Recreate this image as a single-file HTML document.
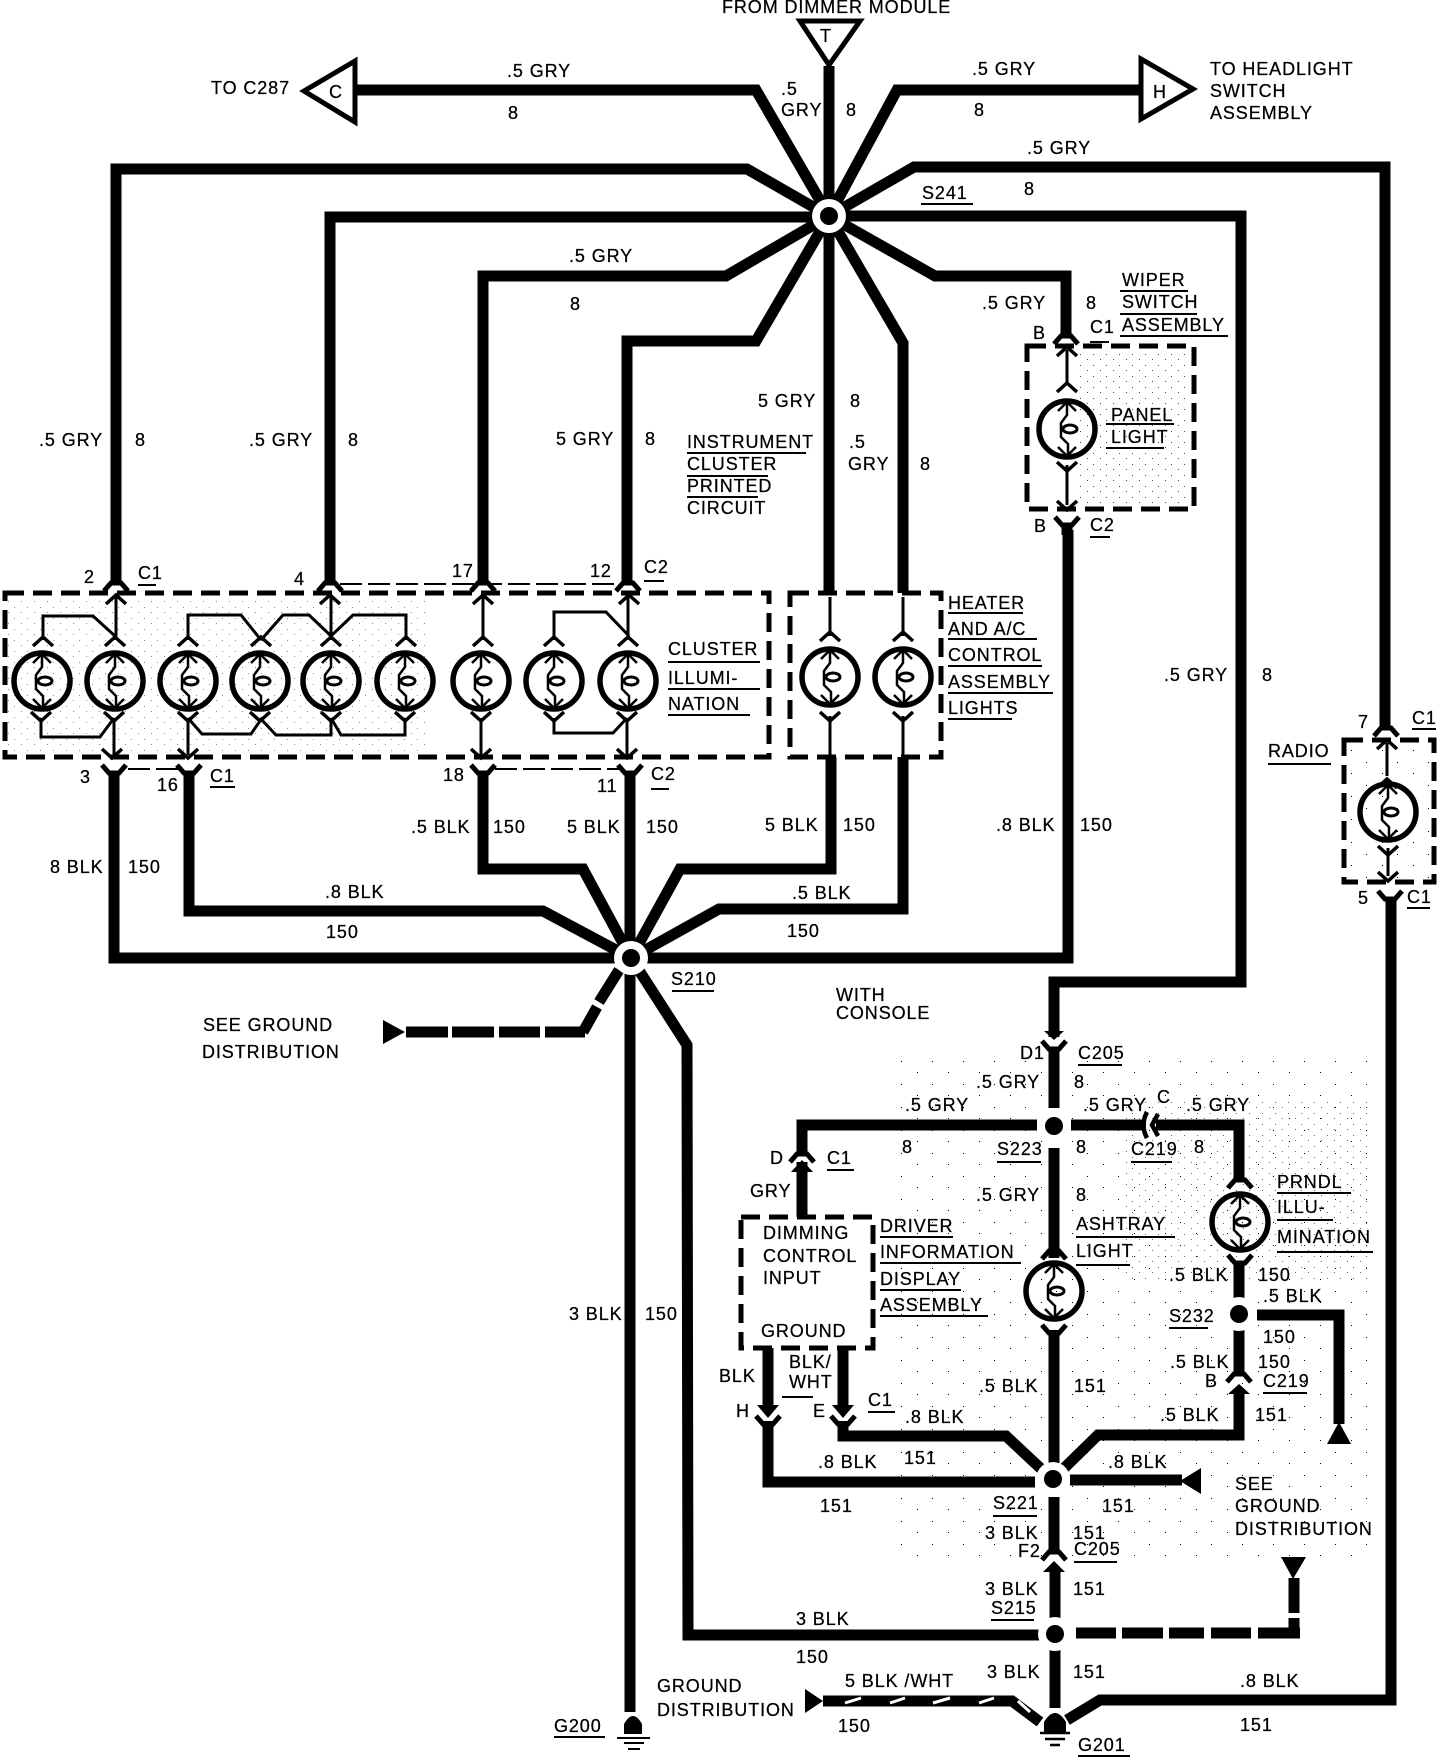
<!DOCTYPE html>
<html>
<head>
<meta charset="utf-8">
<style>
html,body{margin:0;padding:0;background:#fff;}
svg{display:block;}
text{font-family:"Liberation Sans",sans-serif;font-size:18px;letter-spacing:.9px;fill:#000;stroke:#000;stroke-width:.25;}
.w{fill:none;stroke:#000;stroke-width:11;stroke-linejoin:miter;}
.th{fill:none;stroke:#000;stroke-width:3;}
.u{fill:none;stroke:#000;stroke-width:2;}
.b{fill:none;stroke:#000;stroke-width:5;stroke-dasharray:19 9;}
.f{fill:none;stroke:#000;stroke-width:5;}
</style>
</head>
<body>
<svg width="1456" height="1758" viewBox="0 0 1456 1758" xmlns="http://www.w3.org/2000/svg">
<defs>
<pattern id="st" width="13" height="11" patternUnits="userSpaceOnUse"><rect x="1" y="2" width="1" height="1" fill="#000"/><rect x="8" y="7" width="1" height="1" fill="#000"/></pattern>
<pattern id="st2" width="31" height="23" patternUnits="userSpaceOnUse"><rect x="2" y="3" width="1" height="1" fill="#000"/><rect x="18" y="14" width="1" height="1" fill="#000"/></pattern>
<g id="bulb">
<ellipse cx="0" cy="0" rx="28" ry="28" fill="none" stroke="#000" stroke-width="5.5"/>
<path d="M0,-28 V-14 L-6,-6 V8 L1,15 V28" fill="none" stroke="#000" stroke-width="2.5"/>
<ellipse cx="3" cy="0" rx="7" ry="4" fill="none" stroke="#000" stroke-width="3"/>
<path d="M-9,-18 L0,-27 L9,-18 M-9,18 L0,27 L9,18" fill="none" stroke="#000" stroke-width="2.5"/>
</g>
<path id="cu" d="M-10,4 L0,-5 L10,4" fill="none" stroke="#000" stroke-width="3.5"/>
<path id="cd" d="M-10,-4 L0,5 L10,-4" fill="none" stroke="#000" stroke-width="3.5"/>
<path id="fu" d="M-12,5 L-5,-3 H5 L12,5" fill="none" stroke="#000" stroke-width="5"/>
<path id="fd" d="M-12,-5 L-5,3 H5 L12,-5" fill="none" stroke="#000" stroke-width="5"/>
</defs>
<rect width="1456" height="1758" fill="#fff"/>

<!-- stipple -->
<rect x="8" y="598" width="420" height="155" fill="url(#st)" opacity=".45"/>
<rect x="1075" y="350" width="115" height="155" fill="url(#st)" opacity=".7"/>
<rect x="1350" y="745" width="80" height="135" fill="url(#st2)"/>
<rect x="900" y="1060" width="470" height="500" fill="url(#st2)"/>
<rect x="1120" y="1100" width="250" height="180" fill="url(#st)" opacity=".6"/>

<!-- S241 wires -->
<path class="w" d="M355,90 H756 L829,216"/>
<path class="w" d="M829,66 V593"/>
<path class="w" d="M829,216 L897,90 H1141"/>
<path class="w" d="M116,584 V169 H747 L829,216"/>
<path class="w" d="M330,584 V217 H829"/>
<path class="w" d="M483,584 V276 H726 L829,216"/>
<path class="w" d="M627,584 V341 H756 L829,216"/>
<path class="w" d="M903,593 V343 L829,216"/>
<path class="w" d="M829,216 L914,167 H1385 V730"/>
<path class="w" d="M829,216 H1241 V982 H1054 V1037"/>
<path class="w" d="M829,216 L935,276 H1066 V337"/>

<circle cx="829" cy="216" r="17" fill="#fff"/>
<circle cx="829" cy="216" r="9" fill="#000"/>

<!-- Terminal triangles -->
<path d="M304,91 L355,61 V122 Z" fill="#fff" stroke="#000" stroke-width="5"/>
<path d="M800,21 H860 L829,65 Z" fill="#fff" stroke="#000" stroke-width="5"/>
<path d="M1141,59 V119 L1193,89 Z" fill="#fff" stroke="#000" stroke-width="5"/>

<!-- S210 wires -->
<path class="w" d="M114,773 V958 H1068 V530"/>
<path class="w" d="M189,773 V911 H543 L631,958"/>
<path class="w" d="M483,773 V869 H583 L631,958"/>
<path class="w" d="M630,773 V1712"/>
<path class="w" d="M831,757 V869 H680 L631,958"/>
<path class="w" d="M903,757 V909 H719 L631,958"/>
<path class="w" d="M631,958 L687,1045 L688,1635 H1045"/>
<path class="w" d="M619,970 L599,1002 M597,1007 L583,1032 M545,1032 H585 M499,1032 H540 M452,1032 H494 M406,1032 H448"/>
<circle cx="631" cy="958" r="17" fill="#fff"/>
<circle cx="631" cy="958" r="9" fill="#000"/>
<path d="M383,1020 L405,1032 L383,1044 Z" fill="#000"/>

<!-- boxes -->
<rect x="5" y="593" width="764" height="164" class="b"/>
<rect x="790" y="593" width="151" height="164" class="b"/>
<rect x="1027" y="346" width="167" height="163" class="b"/>
<rect x="1344" y="740" width="90" height="142" class="b"/>
<rect x="741" y="1217" width="132" height="131" class="b"/>

<!-- bulbs -->
<use href="#bulb" x="42" y="681"/><use href="#bulb" x="115" y="681"/><use href="#bulb" x="188" y="681"/>
<use href="#bulb" x="260" y="681"/><use href="#bulb" x="331" y="681"/><use href="#bulb" x="405" y="681"/>
<use href="#bulb" x="481" y="681"/><use href="#bulb" x="554" y="681"/><use href="#bulb" x="628" y="681"/>
<use href="#bulb" x="830" y="677"/><use href="#bulb" x="903" y="677"/>
<use href="#bulb" x="1067" y="429"/><use href="#bulb" x="1388" y="812"/>
<use href="#bulb" x="1054" y="1291"/><use href="#bulb" x="1240" y="1222"/>

<!-- cluster internal thin wiring -->
<path class="th" d="M116,597 V640 M43,640 V616 H93 L115,636
M188,640 V615 H241 L261,640 M261,640 L283,615 H309 L331,636 L353,615 H406 V640 M331,597 V640
M483,597 V640 M554,640 V612 H606 L629,636 M628,597 V640
M41,718 V737 H100 L114,718 M114,718 V755
M188,718 V755 M188,718 L202,734 H251 L262,718 M260,718 L276,735 H331 V718 M331,718 L341,735 H405 V718
M481,718 V755 M554,718 V733 H613 L627,718 M627,718 V755
M830,597 V636 M903,597 V636 M830,716 V757 M903,716 V757
M1067,350 V385 M1067,465 V505 M1387,743 V776 M1388,848 V876"/>
<!-- chevrons -->
<g>
<use href="#cu" x="43" y="642"/><use href="#cu" x="115" y="642"/><use href="#cu" x="188" y="642"/><use href="#cu" x="261" y="642"/><use href="#cu" x="331" y="642"/><use href="#cu" x="406" y="642"/><use href="#cu" x="483" y="642"/><use href="#cu" x="554" y="642"/><use href="#cu" x="628" y="642"/>
<use href="#cu" x="116" y="600"/><use href="#cu" x="330" y="600"/><use href="#cu" x="483" y="600"/><use href="#cu" x="629" y="600"/>
<use href="#cd" x="41" y="716"/><use href="#cd" x="114" y="716"/><use href="#cd" x="188" y="716"/><use href="#cd" x="260" y="716"/><use href="#cd" x="331" y="716"/><use href="#cd" x="405" y="716"/><use href="#cd" x="481" y="716"/><use href="#cd" x="554" y="716"/><use href="#cd" x="627" y="716"/>
<use href="#cd" x="112" y="753"/><use href="#cd" x="188" y="753"/><use href="#cd" x="481" y="753"/><use href="#cd" x="627" y="753"/>
<use href="#cu" x="830" y="637"/><use href="#cu" x="903" y="637"/><use href="#cd" x="830" y="716"/><use href="#cd" x="903" y="716"/>
<use href="#cu" x="1067" y="352"/><use href="#cu" x="1067" y="388"/><use href="#cd" x="1067" y="466"/><use href="#cd" x="1067" y="505"/>
<use href="#cu" x="1387" y="745"/><use href="#cu" x="1387" y="784"/><use href="#cd" x="1388" y="850"/><use href="#cd" x="1388" y="876"/>
</g>

<!-- forks -->
<use href="#fu" x="116" y="586"/><use href="#fu" x="330" y="586"/><use href="#fu" x="483" y="586"/><use href="#fu" x="628" y="586"/>
<use href="#fd" x="114" y="770"/><use href="#fd" x="189" y="770"/><use href="#fd" x="483" y="770"/><use href="#fd" x="630" y="770"/>
<path d="M340,584 H620 M128,769 H180 M495,769 H620" fill="none" stroke="#000" stroke-width="2" stroke-dasharray="22 6"/>
<use href="#fu" x="1066" y="339"/>
<use href="#fd" x="1067" y="522"/>
<path class="w" d="M1067,525 V535"/>
<use href="#fu" x="1386" y="731"/>
<use href="#fd" x="1390" y="896"/>
<path class="w" d="M1391,900 V1700 H1100 L1067,1720"/>

<!-- lower right section -->
<path class="w" d="M1054,1048 V1108 M1054,1148 V1258"/>
<path d="M1044,1031 L1054,1040 L1064,1031 Z" fill="#000"/>
<use href="#fd" x="1054" y="1046"/>
<use href="#fu" x="1054" y="1254"/>
<path class="w" d="M1037,1125 H802 V1153"/>
<path class="w" d="M802,1162 V1217"/>
<use href="#fu" x="802" y="1157"/>
<path d="M791,1172 L802,1160 L813,1172 Z" fill="#000"/>
<path class="w" d="M1071,1125 H1146 M1156,1125 H1239 V1180"/>
<path d="M1147,1112 Q1140,1125 1147,1138 M1158,1114 L1152,1125 L1158,1136" fill="none" stroke="#000" stroke-width="4.5"/>
<use href="#fu" x="1240" y="1183"/>
<use href="#fd" x="1240" y="1260"/>
<path class="w" d="M1239,1262 V1298 M1239,1330 V1373"/>
<use href="#fu" x="1239" y="1377"/>
<path d="M1228,1394 L1239,1384 L1250,1394 Z" fill="#000"/>
<path class="w" d="M1239,1390 V1435 H1098 L1053,1479"/>
<path class="w" d="M1257,1315 H1339 V1424"/>
<path d="M1339,1422 L1327,1444 H1351 Z" fill="#000"/>
<use href="#fd" x="1054" y="1330"/>
<path class="w" d="M1054,1330 V1479 M1054,1497 V1552"/>
<use href="#fu" x="1054" y="1555"/>
<path d="M1043,1572 L1054,1561 L1065,1572 Z" fill="#000"/>
<path class="w" d="M1055,1568 V1618 M1055,1650 V1708"/>

<path class="w" d="M768,1348 V1410 M843,1348 V1410"/>
<path d="M757,1405 L768,1418 L779,1405 Z M832,1405 L843,1418 L854,1405 Z" fill="#000"/>
<use href="#fd" x="768" y="1421"/><use href="#fd" x="843" y="1421"/>
<path class="w" d="M768,1421 V1482 H1035 M843,1421 V1436 H1006 L1052,1479"/>
<path class="w" d="M1070,1480 H1182"/>
<path d="M1180,1481 L1201,1468 V1494 Z" fill="#000"/>

<circle cx="1054" cy="1126" r="17" fill="#fff"/><circle cx="1054" cy="1126" r="9" fill="#000"/>
<circle cx="1239" cy="1314" r="17" fill="#fff"/><circle cx="1239" cy="1314" r="9" fill="#000"/>
<circle cx="1053" cy="1479" r="17" fill="#fff"/><circle cx="1053" cy="1479" r="9" fill="#000"/>
<circle cx="1055" cy="1634" r="17" fill="#fff"/><circle cx="1055" cy="1634" r="9" fill="#000"/>

<!-- right dashed -->
<path class="w" d="M1076,1633 H1116 M1122,1633 H1163 M1169,1633 H1204 M1211,1633 H1251 M1258,1633 H1300 M1294,1638 V1618 M1294,1613 V1578" stroke-width="11"/>
<path d="M1281,1557 H1306 L1293,1579 Z" fill="#000"/>

<!-- bottom left blk/wht -->
<path d="M805,1689 L823,1701 L805,1713 Z" fill="#000"/>
<path class="w" d="M823,1701 H1012 L1040,1722"/>
<path d="M845,1703 L861,1698 M890,1703 L905,1698 M933,1703 L950,1698 M979,1703 L994,1698 M1018,1701 L1030,1712" fill="none" stroke="#fff" stroke-width="3"/>

<!-- grounds -->
<path d="M1044,1732 V1722 Q1055,1704 1066,1722 V1732 Z" fill="#000"/>
<path d="M1040,1733 H1070 M1045,1739 H1065 M1050,1745 H1060" stroke="#000" stroke-width="2.5" fill="none"/>
<path d="M624,1734 V1724 Q633,1708 642,1724 V1734 Z" fill="#000"/>
<path d="M617,1738 H650 M624,1743 H644 M628,1749 H640" stroke="#000" stroke-width="2" fill="none"/>

<!-- underlines -->
<path class="u" d="M687,453 H806 M687,476 H768 M687,497 H758
M921,204 H973 M1120,291 H1188 M1120,314 H1197 M1120,336 H1228 M1090,342 H1109 M1106,424 H1174 M1106,448 H1164 M1090,537 H1110
M138,585 H156 M210,787 H235 M644,581 H664 M651,789 H669
M672,991 H714 M668,662 H760 M668,689 H760 M668,715 H750
M948,613 H1023 M948,639 H1037 M948,666 H1042 M948,693 H1053 M948,719 H1012
M1412,729 H1436 M1268,764 H1331 M1407,908 H1430
M1078,1065 H1122 M997,1162 H1041 M1131,1162 H1172 M827,1170 H854
M880,1237 H953 M880,1263 H1021 M880,1290 H961 M880,1316 H988
M1076,1237 H1175 M1076,1265 H1130
M1277,1193 H1351 M1277,1220 H1333 M1277,1252 H1373
M1169,1328 H1208 M1263,1393 H1307 M868,1412 H895 M782,1397 H813
M993,1516 H1037 M1074,1562 H1117 M991,1620 H1034 M554,1737 H605 M1078,1756 H1130"/>

<!-- labels -->
<text x="722" y="13">FROM DIMMER MODULE</text>
<text x="820" y="42">T</text>
<text x="211" y="94">TO C287</text>
<text x="329" y="98">C</text>
<text x="507" y="77">.5 GRY</text>
<text x="508" y="119">8</text>
<text x="781" y="95">.5</text><text x="781" y="116">GRY</text><text x="846" y="116">8</text>
<text x="972" y="75">.5 GRY</text><text x="974" y="116">8</text>
<text x="1153" y="98">H</text>
<text x="1210" y="75">TO HEADLIGHT</text><text x="1210" y="97">SWITCH</text><text x="1210" y="119">ASSEMBLY</text>
<text x="1027" y="154">.5 GRY</text><text x="1024" y="195">8</text>
<text x="922" y="199">S241</text>
<text x="569" y="262">.5 GRY</text><text x="570" y="310">8</text>
<text x="1122" y="286">WIPER</text><text x="1122" y="308">SWITCH</text><text x="1122" y="331">ASSEMBLY</text>
<text x="982" y="309">.5 GRY</text><text x="1086" y="309">8</text>
<text x="1033" y="339">B</text><text x="1090" y="333">C1</text>
<text x="1111" y="421">PANEL</text><text x="1111" y="443">LIGHT</text>
<text x="758" y="407">5 GRY</text><text x="850" y="407">8</text>
<text x="849" y="448">.5</text><text x="848" y="470">GRY</text><text x="920" y="470">8</text>
<text x="39" y="446">.5 GRY</text><text x="135" y="446">8</text>
<text x="249" y="446">.5 GRY</text><text x="348" y="446">8</text>
<text x="556" y="445">5 GRY</text><text x="645" y="445">8</text>
<text x="687" y="448">INSTRUMENT</text><text x="687" y="470">CLUSTER</text><text x="687" y="492">PRINTED</text><text x="687" y="514">CIRCUIT</text>
<text x="1034" y="532">B</text><text x="1090" y="531">C2</text>
<text x="84" y="583">2</text><text x="138" y="579">C1</text><text x="294" y="585">4</text><text x="452" y="577">17</text><text x="590" y="577">12</text><text x="644" y="573">C2</text>
<text x="668" y="655">CLUSTER</text><text x="668" y="684">ILLUMI-</text><text x="668" y="710">NATION</text>
<text x="948" y="609">HEATER</text><text x="948" y="635">AND A/C</text><text x="948" y="661">CONTROL</text><text x="948" y="688">ASSEMBLY</text><text x="948" y="714">LIGHTS</text>
<text x="1164" y="681">.5 GRY</text><text x="1262" y="681">8</text>
<text x="1358" y="728">7</text><text x="1412" y="724">C1</text><text x="1268" y="757">RADIO</text>
<text x="1358" y="904">5</text><text x="1407" y="903">C1</text>
<text x="80" y="783">3</text><text x="157" y="791">16</text><text x="210" y="782">C1</text><text x="443" y="781">18</text><text x="597" y="792">11</text><text x="651" y="780">C2</text>
<text x="411" y="833">.5 BLK</text><text x="493" y="833">150</text><text x="567" y="833">5 BLK</text><text x="646" y="833">150</text>
<text x="765" y="831">5 BLK</text><text x="843" y="831">150</text><text x="996" y="831">.8 BLK</text><text x="1080" y="831">150</text>
<text x="50" y="873">8 BLK</text><text x="128" y="873">150</text>
<text x="325" y="898">.8 BLK</text><text x="326" y="938">150</text>
<text x="792" y="899">.5 BLK</text><text x="787" y="937">150</text>
<text x="671" y="985">S210</text>
<text x="836" y="1001">WITH</text><text x="836" y="1019">CONSOLE</text>
<text x="203" y="1031">SEE GROUND</text><text x="202" y="1058">DISTRIBUTION</text>
<text x="1020" y="1059">D1</text><text x="1078" y="1059">C205</text>
<text x="976" y="1088">.5 GRY</text><text x="1074" y="1088">8</text>
<text x="905" y="1111">.5 GRY</text><text x="1083" y="1111">.5 GRY</text><text x="1157" y="1103">C</text><text x="1186" y="1111">.5 GRY</text>
<text x="902" y="1153">8</text><text x="997" y="1155">S223</text><text x="1076" y="1153">8</text><text x="1131" y="1155">C219</text><text x="1194" y="1153">8</text>
<text x="770" y="1164">D</text><text x="827" y="1164">C1</text><text x="750" y="1197">GRY</text>
<text x="976" y="1201">.5 GRY</text><text x="1076" y="1201">8</text>
<text x="763" y="1239">DIMMING</text><text x="763" y="1262">CONTROL</text><text x="763" y="1284">INPUT</text><text x="761" y="1337">GROUND</text>
<text x="880" y="1232">DRIVER</text><text x="880" y="1258">INFORMATION</text><text x="880" y="1285">DISPLAY</text><text x="880" y="1311">ASSEMBLY</text>
<text x="1076" y="1230">ASHTRAY</text><text x="1076" y="1257">LIGHT</text>
<text x="1277" y="1188">PRNDL</text><text x="1277" y="1213">ILLU-</text><text x="1277" y="1243">MINATION</text>
<text x="1169" y="1281">.5 BLK</text><text x="1258" y="1281">150</text><text x="1263" y="1302">.5 BLK</text>
<text x="1169" y="1322">S232</text><text x="1263" y="1343">150</text>
<text x="569" y="1320">3 BLK</text><text x="645" y="1320">150</text>
<text x="1170" y="1368">.5 BLK</text><text x="1258" y="1368">150</text>
<text x="1205" y="1387">B</text><text x="1263" y="1387">C219</text>
<text x="979" y="1392">.5 BLK</text><text x="1074" y="1392">151</text>
<text x="719" y="1382">BLK</text><text x="789" y="1368">BLK/</text><text x="789" y="1388">WHT</text>
<text x="736" y="1417">H</text><text x="813" y="1417">E</text><text x="868" y="1406">C1</text><text x="905" y="1423">.8 BLK</text>
<text x="1160" y="1421">.5 BLK</text><text x="1255" y="1421">151</text>
<text x="818" y="1468">.8 BLK</text><text x="904" y="1464">151</text><text x="1108" y="1468">.8 BLK</text>
<text x="820" y="1512">151</text><text x="993" y="1509">S221</text><text x="1102" y="1512">151</text>
<text x="1235" y="1490">SEE</text><text x="1235" y="1512">GROUND</text><text x="1235" y="1535">DISTRIBUTION</text>
<text x="985" y="1539">3 BLK</text><text x="1073" y="1539">151</text>
<text x="1018" y="1557">F2</text><text x="1074" y="1555">C205</text>
<text x="985" y="1595">3 BLK</text><text x="1073" y="1595">151</text>
<text x="991" y="1614">S215</text><text x="796" y="1625">3 BLK</text><text x="796" y="1663">150</text>
<text x="987" y="1678">3 BLK</text><text x="1073" y="1678">151</text>
<text x="1240" y="1687">.8 BLK</text><text x="1240" y="1731">151</text>
<text x="845" y="1687">5 BLK /WHT</text><text x="838" y="1732">150</text>
<text x="657" y="1692">GROUND</text><text x="657" y="1716">DISTRIBUTION</text>
<text x="554" y="1732">G200</text><text x="1078" y="1751">G201</text>
</svg>
</body>
</html>
